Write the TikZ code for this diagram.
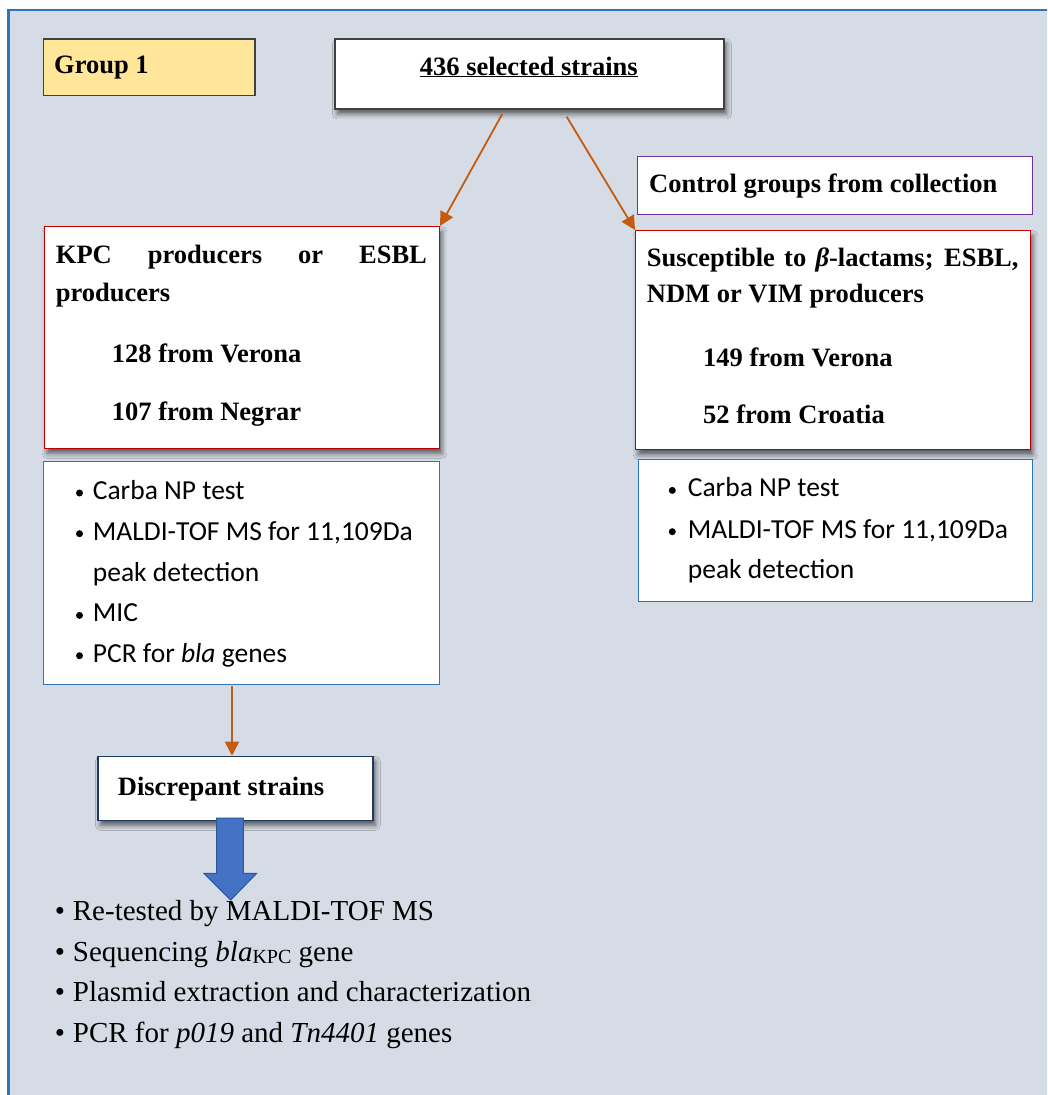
\documentclass[tikz,border=0pt]{standalone}
\usepackage{fontspec}
\setmainfont{Liberation Serif}
\newfontfamily\calibrifont{Carlito}
\usetikzlibrary{arrows.meta,shadows.blur}
\definecolor{bgc}{HTML}{D6DCE5}
\definecolor{framec}{HTML}{2E75B6}
\definecolor{goldc}{HTML}{FFE699}
\definecolor{redc}{HTML}{C00000}
\definecolor{purplec}{HTML}{7030A0}
\definecolor{bluec}{HTML}{2E75B6}
\definecolor{orangec}{HTML}{C55A11}
\definecolor{arrfill}{HTML}{4472C4}
\definecolor{arrdraw}{HTML}{2F5597}
\definecolor{navyc}{HTML}{1F3864}
\definecolor{darkc}{HTML}{404040}
\tikzset{
  box/.style={draw, fill=white, inner sep=0pt, anchor=north west, line width=1.3pt},
  shad/.style={blur shadow={shadow xshift=2.5pt, shadow yshift=-5pt, shadow blur radius=5pt, shadow opacity=60}},
  bt/.style={anchor=base west, inner sep=0pt, font=\fontsize{26.5}{32}\selectfont\bfseries},
  ct/.style={anchor=base west, inner sep=0pt, font=\calibrifont\fontsize{27.5}{33}\selectfont},
  cdot/.style={circle, fill=black, draw=none, inner sep=0pt, minimum size=7pt},
  tt/.style={anchor=base west, inner sep=0pt, font=\fontsize{29}{35}\selectfont},
  tb/.style={anchor=base, inner sep=0pt, font=\fontsize{29}{35}\selectfont},
  arr/.style={orangec, line width=1.8pt, -{Triangle[length=14pt,width=14pt]}},
}
\begin{document}
\begin{tikzpicture}[x=1pt,y=-1pt]
\useasboundingbox (0,0) rectangle (1047,1095);
\fill[white] (0,0) rectangle (1047,1095);
\begin{scope}
\clip (0,0) rectangle (1047,1095);
\draw[framec, line width=2.5pt, fill=bgc] (8.3,10) rectangle (1070,1120);
\end{scope}

% Group 1
\node[box, fill=goldc, draw=darkc, line width=1.2pt, minimum width=211.6pt, minimum height=56.4pt] (g1) at (42.7,38.3) {};
\node[bt] (g1t) at (54,73.3) {Group 1};

% 436 selected strains
\node[box, draw=darkc, shad, minimum width=389pt, minimum height=70pt] (top) at (334.3,38.3) {};
\node[anchor=base, inner sep=0pt, font=\fontsize{26.5}{32}\selectfont\bfseries] (topt) at (528.8,75) {\underline{436 selected strains}};

% Control groups
\node[box, draw=purplec, line width=1.1pt, minimum width=394.7pt, minimum height=58pt] (ctrl) at (637.3,156) {};
\node[bt] (ctrlt) at (649,192.7) {Control groups from collection};

% Left red box
\node[box, draw=redc, shad, minimum width=394.7pt, minimum height=221.7pt] (kpc) at (44,226) {};
\node[bt] (kpc1) at (55.7,263.3) {\makebox[371pt][s]{KPC producers or ESBL}};
\node[bt] (kpc2) at (55.7,301) {producers};
\node[bt] (kpc3) at (111.7,362.7) {128 from Verona};
\node[bt] (kpc4) at (111.7,420) {107 from Negrar};

% Right red box
\node[box, draw=redc, shad, minimum width=394.7pt, minimum height=219pt] (sus) at (635,230) {};
\node[bt] (sus1) at (646.7,266) {\makebox[371.6pt][s]{Susceptible to \textit{β}-lactams; ESBL,}};
\node[bt] (sus2) at (646.7,302.7) {NDM or VIM producers};
\node[bt] (sus3) at (703,366) {149 from Verona};
\node[bt] (sus4) at (703,423.3) {52 from Croatia};

% Left blue box
\node[box, draw=bluec, line width=1.1pt, minimum width=396pt, minimum height=223.3pt] (lb) at (42.7,461) {};
\node[cdot] (lb1b) at (79.5,493) {};
\node[ct] (lb1) at (92.7,499.3) {Carba NP test};
\node[cdot] (lb2b) at (79.5,533.7) {};
\node[ct] (lb2) at (92.7,540) {MALDI-TOF MS for 11,109Da};
\node[ct] (lb3) at (92.7,581) {peak detection};
\node[cdot] (lb4b) at (79.5,615.4) {};
\node[ct] (lb4) at (92.7,621.7) {MIC};
\node[cdot] (lb5b) at (79.5,655.7) {};
\node[ct] (lb5) at (92.7,662) {PCR for \textit{bla} genes};

% Right blue box
\node[box, draw=bluec, line width=1.1pt, minimum width=394pt, minimum height=142pt] (rb) at (637.7,459) {};
\node[cdot] (rb1b) at (672.3,490.4) {};
\node[ct] (rb1) at (687.7,496.7) {Carba NP test};
\node[cdot] (rb2b) at (672.3,531.7) {};
\node[ct] (rb2) at (687.7,538) {MALDI-TOF MS for 11,109Da};
\node[ct] (rb3) at (687.7,578.5) {peak detection};

% Discrepant strains
\node[box, draw=navyc, line width=1.2pt, shad, minimum width=275pt, minimum height=64pt] (disc) at (97.3,755.7) {};
\node[bt] (disct) at (117.7,795) {Discrepant strains};

% Arrows
\coordinate (s1) at (502.3,114);
\coordinate (s2) at (566.7,116.7);
\coordinate (s3) at (232,686);
\draw[arr] (s1) -- (kpc.north east);
\draw[arr] (s2) -- (sus.north west);
\draw[arr] (s3) -- (s3 |- disc.north);

% Block arrow
\draw[fill=arrfill, draw=arrdraw, line width=1pt]
  (216.7,818) -- (243.3,818) -- (243.3,873.3) -- (256.7,873.3) -- (230.7,900)
  -- (204,873.3) -- (216.7,873.3) -- cycle;

% Bottom bullets
\node[tb] (b1b) at (60,920.7) {•};
\node[tt] (b1) at (72.7,920.7) {Re-tested by MALDI-TOF MS};
\node[tb] (b2b) at (60,961) {•};
\node[tt] (b2) at (72.7,961) {Sequencing \textit{bla}\raisebox{-2.5pt}{\fontsize{20}{24}\selectfont KPC} gene};
\node[tb] (b3b) at (60,1001) {•};
\node[tt] (b3) at (72.7,1001) {Plasmid extraction and characterization};
\node[tb] (b4b) at (60,1042.3) {•};
\node[tt] (b4) at (72.7,1042.3) {PCR for \textit{p019} and \textit{Tn4401} genes};
\end{tikzpicture}
\end{document}
